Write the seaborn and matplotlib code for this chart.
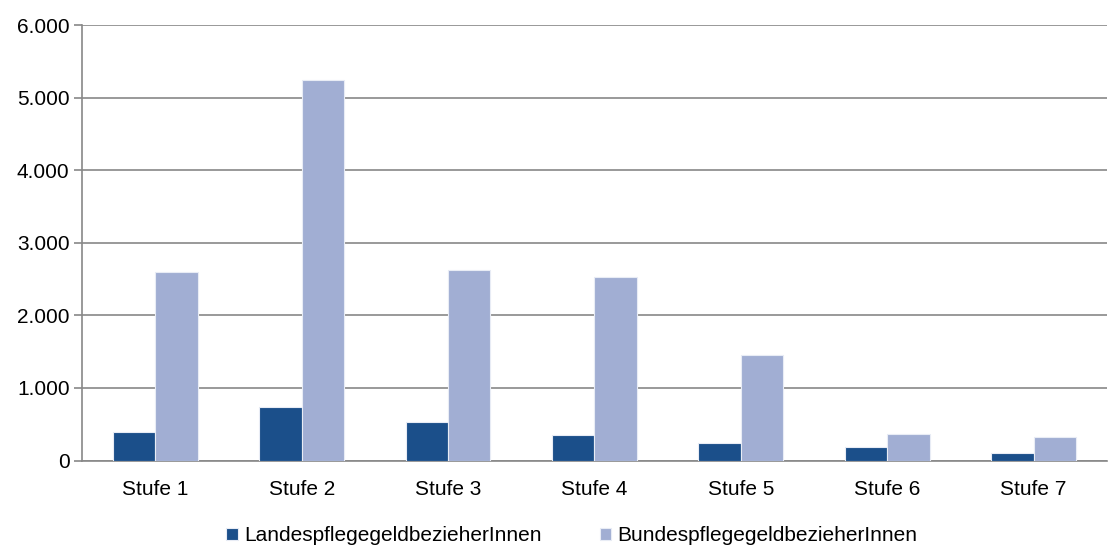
import pandas as pd
import seaborn as sns
import matplotlib.pyplot as plt
from matplotlib.ticker import FuncFormatter

# Data
stufen = ['Stufe 1', 'Stufe 2', 'Stufe 3', 'Stufe 4', 'Stufe 5', 'Stufe 6', 'Stufe 7']
landes = [390, 743, 536, 349, 239, 185, 110]
bundes = [2598, 5238, 2623, 2531, 1455, 360, 322]
series = ['LandespflegegeldbezieherInnen', 'BundespflegegeldbezieherInnen']
colors = ['#1B4F8A', '#A1AED3']

df = pd.DataFrame({
    'Stufe': stufen * 2,
    'Gruppe': [series[0]] * len(stufen) + [series[1]] * len(stufen),
    'Anzahl': landes + bundes,
})

sns.set_theme(style="white")
plt.rcParams['font.family'] = ['Liberation Sans', 'DejaVu Sans']
plt.rcParams['text.color'] = 'black'
plt.rcParams['xtick.color'] = 'black'
plt.rcParams['ytick.color'] = 'black'

fig, ax = plt.subplots(figsize=(11.09, 5.45), dpi=100)
fig.subplots_adjust(left=0.074, right=0.998, top=0.954, bottom=0.155)

sns.barplot(data=df, x='Stufe', y='Anzahl', hue='Gruppe', palette=colors, saturation=1,
            width=0.58, edgecolor='#E8ECF5', linewidth=0.8, ax=ax, zorder=3)

ax.set_ylim(0, 6000)
ax.set_yticks(range(0, 6001, 1000))
ax.yaxis.set_major_formatter(FuncFormatter(lambda v, p: f'{int(v):,}'.replace(',', '.')))
ax.grid(axis='y', color='#888888', linewidth=1.2, zorder=0)
ax.set_axisbelow(True)

for side in ['top', 'right']:
    ax.spines[side].set_visible(False)
for side in ['left', 'bottom']:
    ax.spines[side].set_color('#888888')
    ax.spines[side].set_linewidth(1.2)

ax.tick_params(axis='y', length=6, width=1.2, color='#888888', labelcolor='black',
               labelsize=15, pad=3, left=True)
ax.tick_params(axis='x', length=0, labelsize=15, labelcolor='black', pad=14)
ax.set_xlabel('')
ax.set_ylabel('')

handles, labels = ax.get_legend_handles_labels()
ax.legend(handles, labels, loc='upper center', bbox_to_anchor=(0.478, -0.108), ncol=2,
          frameon=False, fontsize=15, handlelength=0.55, handleheight=0.55,
          handletextpad=0.3, columnspacing=2.8)

plt.savefig('out.png', dpi=100)
